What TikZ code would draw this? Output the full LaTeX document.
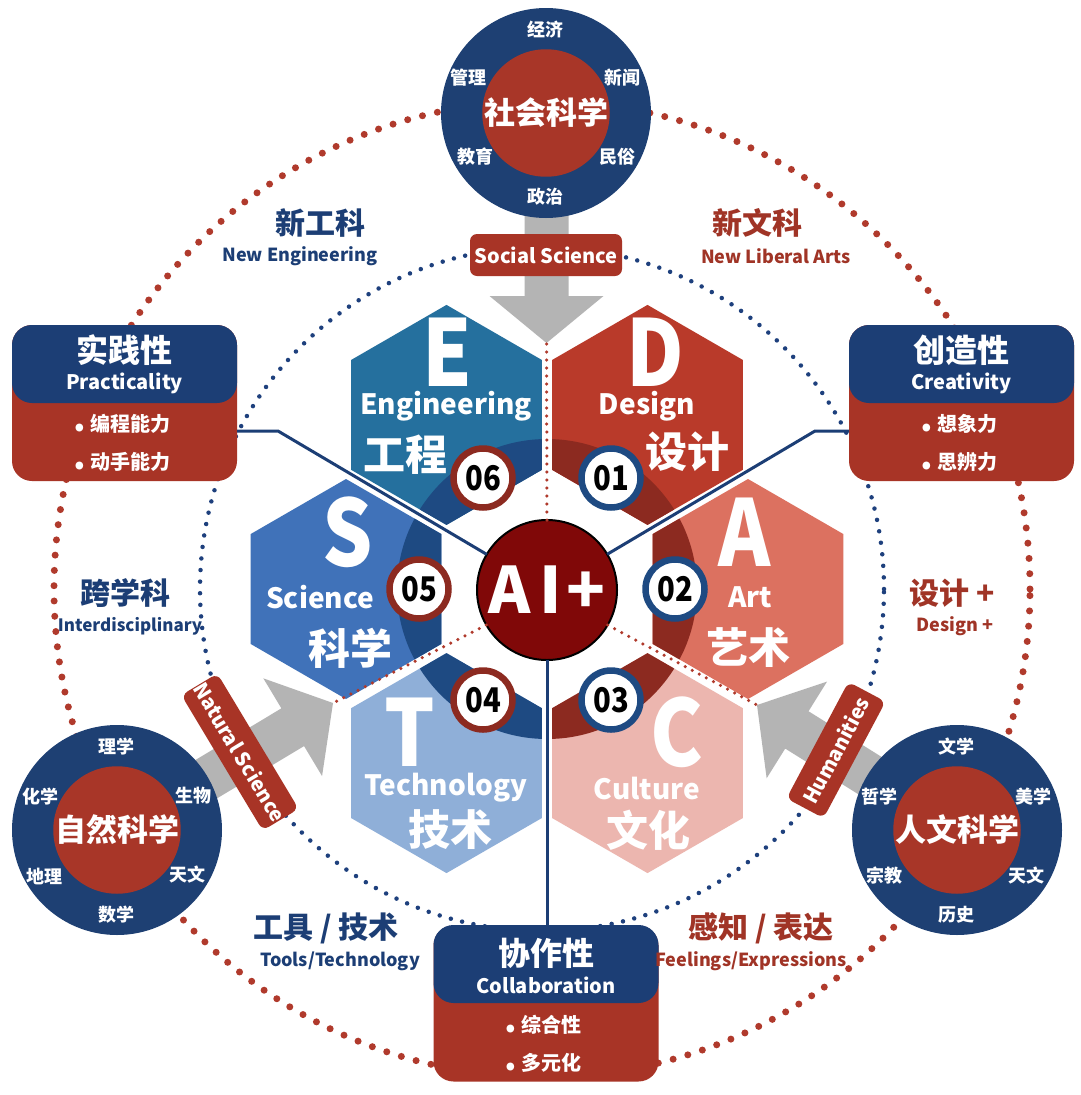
\documentclass[tikz,border=0pt]{standalone}
\usepackage{fontspec}
\setmainfont{Noto Sans CJK SC}
\newfontfamily\condf{Noto Sans CJK SC}[FakeStretch=0.86]
\usetikzlibrary{calc}
\newcommand\fsz[1]{\fontsize{#1}{#1}\selectfont}
\newcommand\bul{{\fsz{36}.}\hspace{5pt}}
\definecolor{boxblue}{RGB}{28,62,117}
\definecolor{boxred}{RGB}{168,52,38}
\definecolor{sciblue}{RGB}{30,64,115}
\definecolor{scired}{RGB}{168,54,40}
\definecolor{hexE}{RGB}{37,112,158}
\definecolor{hexD}{RGB}{185,58,42}
\definecolor{hexS}{RGB}{64,114,185}
\definecolor{hexA}{RGB}{220,113,96}
\definecolor{hexT}{RGB}{143,175,216}
\definecolor{hexC}{RGB}{236,182,175}
\definecolor{ringblue}{RGB}{30,74,130}
\definecolor{ringred}{RGB}{140,42,32}
\definecolor{aired}{RGB}{128,8,8}
\definecolor{arrowgray}{RGB}{180,180,180}
\definecolor{txtblue}{RGB}{28,62,117}
\definecolor{txtred}{RGB}{160,52,38}
\definecolor{dotred}{RGB}{176,58,44}
\definecolor{dotblue}{RGB}{30,64,125}
\def\hexp#1{(#1) +(0,-110) -- +(95.26,-55) -- +(95.26,55) -- +(0,110) -- +(-95.26,55) -- +(-95.26,-55) -- cycle}
\begin{document}
\begin{tikzpicture}[x=1pt,y=-1pt,
  every node/.style={inner sep=0pt, outer sep=0pt},
  reddots/.style={draw=dotred, line width=7pt, line cap=round, dash pattern=on 0pt off 15.3pt},
  bluedots/.style={draw=dotblue, line width=4.5pt, line cap=round, dash pattern=on 0pt off 11.6pt},
  gapdots/.style={draw=dotred, line width=3.5pt, line cap=round, dash pattern=on 0pt off 8pt},
  conn/.style={draw=boxblue, line width=3pt},
  garrow/.style={fill=arrowgray},
  hexletter/.style={text=white, font=\condf\bfseries\fsz{92}},
  hexen/.style={text=white, font=\bfseries\fsz{28}},
  hexcn/.style={text=white, font=\bfseries\fsz{42}},
  badge/.style={circle, fill=white, line width=6.5pt, minimum size=59pt, font=\condf\bfseries\fsz{34}},
  outercirc/.style={circle, fill=sciblue, minimum size=210pt},
  innercirc/.style={circle, fill=scired, minimum size=124pt, text=white, font=\bfseries\fsz{31}},
  sub/.style={text=white, font=\bfseries\fsz{18}},
  lbl/.style={rectangle, rounded corners=7pt, fill=boxred, text=white, minimum height=42pt, font=\bfseries\fsz{20}},
  redbox/.style={rectangle, rounded corners=20pt, fill=boxred, minimum width=225pt, minimum height=156pt},
  bluebox/.style={rectangle, rounded corners=20pt, fill=boxblue, minimum width=225pt, minimum height=78pt},
  boxtitle/.style={text=white, font=\bfseries\fsz{32}},
  boxen/.style={text=white, font=\bfseries\fsz{20}},
  boxitem/.style={text=white, font=\bfseries\fsz{20}},
  sidecnB/.style={text=txtblue, font=\bfseries\fsz{30}},
  sideenB/.style={text=txtblue, font=\bfseries\fsz{18}},
  sidecnR/.style={text=txtred, font=\bfseries\fsz{30}},
  sideenR/.style={text=txtred, font=\bfseries\fsz{18}}]
\useasboundingbox (0,0) rectangle (1080,1095);
\fill[white] (0,0) rectangle (1080,1095);

\coordinate (O) at (547,589);
\coordinate (oc) at (542,589);
% dotted circles
\draw[reddots] (oc) circle (488pt);
\draw[bluedots] (oc) circle (342pt);

% gray arrows
\coordinate (tipT) at (546.5,343);
\coordinate (tipL) at (333,703);
\coordinate (tipR) at (757,705);
\fill[garrow, shift={(tipT)}, rotate=-90] (0,0) -- (-47,57) -- (-47,22) -- (-235,22) -- (-235,-22) -- (-47,-22) -- (-47,-57) -- cycle;
\fill[garrow, shift={(tipL)}, rotate=31] (0,0) -- (-47,57) -- (-47,22) -- (-250,22) -- (-250,-22) -- (-47,-22) -- (-47,-57) -- cycle;
\fill[garrow, shift={(tipR)}, rotate=148] (0,0) -- (-47,57) -- (-47,22) -- (-240,22) -- (-240,-22) -- (-47,-22) -- (-47,-57) -- cycle;

% hexagons
\coordinate (hE) at (446.5,414.9);
\coordinate (hD) at (647.5,414.9);
\coordinate (hS) at (346,589);
\coordinate (hA) at (748,589);
\coordinate (hT) at (446.5,763.1);
\coordinate (hC) at (647.5,763.1);
\fill[hexE] \hexp{hE};
\fill[hexD] \hexp{hD};
\fill[hexS] \hexp{hS};
\fill[hexA] \hexp{hA};
\fill[hexT] \hexp{hT};
\fill[hexC] \hexp{hC};
\begin{scope}
  \clip \hexp{hE} \hexp{hS} \hexp{hT};
  \fill[ringblue, even odd rule] (O) circle (150pt) (O) circle (95pt);
\end{scope}
\begin{scope}
  \clip \hexp{hD} \hexp{hA} \hexp{hC};
  \fill[ringred, even odd rule] (O) circle (150pt) (O) circle (95pt);
\end{scope}

% hex texts
\node[hexletter] (lE) at (447,352) {E};
\node[hexen] (enE) at (446,406) {Engineering};
\node[hexcn] (cnE) at (405,455) {工程};
\node[hexletter] (lD) at (655,352) {D};
\node[hexen] (enD) at (647,406) {Design};
\node[hexcn] (cnD) at (687,452) {设计};
\node[hexletter] (lS) at (348,532) {S};
\node[hexen] (enS) at (320,597) {Science};
\node[hexcn] (cnS) at (350,648) {科学};
\node[hexletter] (lA) at (745,532) {A};
\node[hexen] (enA) at (750,597) {Art};
\node[hexcn] (cnA) at (748,648) {艺术};
\node[hexletter] (lT) at (410,732) {T};
\node[hexen] (enT) at (446,788) {Technology};
\node[hexcn] (cnT) at (450,830) {技术};
\node[hexletter] (lC) at (677,732) {C};
\node[hexen] (enC) at (647,788) {Culture};
\node[hexcn] (cnC) at (648,830) {文化};

% centre
\node[circle, fill=aired, draw=black, line width=2pt, minimum size=140pt, text=white, font=\bfseries\fsz{64}] (ai) at (547,590) {A\hspace{9pt}I\hspace{5pt}+};

% gap dotted lines
\draw[gapdots] (ai.90) -- (tipT);
\draw[gapdots] (ai.210) -- (tipL);
\draw[gapdots] (ai.330) -- (tipR);

% badges
\node[badge, draw=ringred] (b06) at (483,478) {06};
\node[badge, draw=ringblue] (b01) at (611,478) {01};
\node[badge, draw=ringred] (b05) at (419,589) {05};
\node[badge, draw=ringblue] (b02) at (675,589) {02};
\node[badge, draw=ringred] (b04) at (483,700) {04};
\node[badge, draw=ringblue] (b03) at (611,700) {03};

% science circles
\node[outercirc] (soc) at (546,113) {};
\node[innercirc] (socI) at (soc) {社会科学};
\node[sub] at (545,30) {经济};
\node[sub] at (468,78) {管理};
\node[sub] at (622,78) {新闻};
\node[sub] at (475,157) {教育};
\node[sub] at (617,157) {民俗};
\node[sub] at (545,197) {政治};

\node[outercirc] (nat) at (117,830) {};
\node[innercirc] (natI) at (nat) {自然科学};
\node[sub] at (116,747) {理学};
\node[sub] at (40,797) {化学};
\node[sub] at (193,796) {生物};
\node[sub] at (45,876) {地理};
\node[sub] at (187,875) {天文};
\node[sub] at (116,915) {数学};

\node[outercirc] (hum) at (957,830) {};
\node[innercirc] (humI) at (hum) {人文科学};
\node[sub] at (956,747) {文学};
\node[sub] at (879,797) {哲学};
\node[sub] at (1033,797) {美学};
\node[sub] at (884,876) {宗教};
\node[sub] at (1026,876) {天文};
\node[sub] at (956,915) {历史};

% arrow labels
\node[lbl, minimum width=152pt] (socL) at (546,255) {Social Science};
\node[lbl, minimum width=152pt, rotate=-59] (natL) at (240,752) {Natural Science};
\node[lbl, minimum width=132pt, rotate=62] (humL) at (836,750) {Humanities};

% boxes
\node[redbox] (prac) at (124.5,403) {};
\node[bluebox] (pracT) at (124.5,364) {};
\node[redbox] (crea) at (961.5,403) {};
\node[bluebox] (creaT) at (961.5,364) {};
\node[redbox] (coll) at (546,1003.5) {};
\node[bluebox] (collT) at (546,964) {};

\node[boxtitle] at (124.5,350) {实践性};
\node[boxen] at (124.5,383) {Practicality};
\node[boxitem] at (122,424) {\bul 编程能力};
\node[boxitem] at (122,462) {\bul 动手能力};
\node[boxtitle] at (961.5,350) {创造性};
\node[boxen] at (961.5,383) {Creativity};
\node[boxitem] at (959,424) {\bul 想象力};
\node[boxitem] at (959,462) {\bul 思辨力};
\node[boxtitle] at (546,953) {协作性};
\node[boxen] at (546,985) {Collaboration};
\node[boxitem] at (543,1025) {\bul 综合性};
\node[boxitem] at (543,1063) {\bul 多元化};

% connectors
\coordinate (bL) at (278,431);
\coordinate (bR) at (815,431);
\draw[conn] (ai) -- (bL) -- (bL -| prac.east);
\draw[conn] (ai) -- (bR) -- (bR -| crea.west);
\draw[conn] (ai) -- (ai |- collT.north);

% side labels
\node[sidecnB] at (320,223) {新工科};
\node[sideenB] at (300,256) {New Engineering};
\node[sidecnR] at (757,223) {新文科};
\node[sideenR] at (776,256) {New Liberal Arts};
\node[sidecnB] at (125,593) {跨学科};
\node[sideenB, font=\bfseries\fsz{17}] at (130,626) {Interdisciplinary};
\node[sidecnR] at (952,593) {设计 +};
\node[sideenR] at (955,626) {Design +};
\node[sidecnB] at (326,928) {工具 / 技术};
\node[sideenB] at (340,961) {Tools/Technology};
\node[sidecnR] at (761,928) {感知 / 表达};
\node[sideenR] at (751,961) {Feelings/Expressions};
\end{tikzpicture}
\end{document}
